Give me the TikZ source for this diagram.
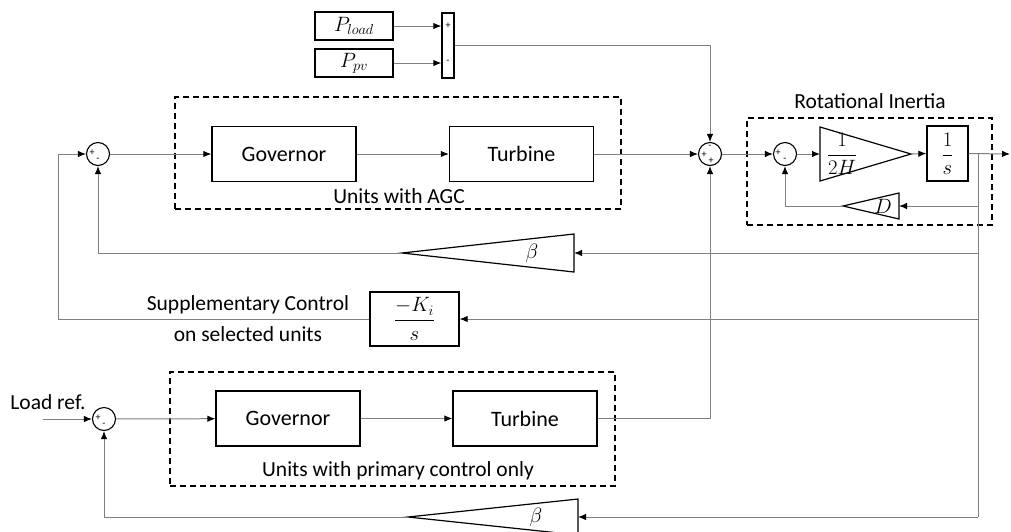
\documentclass[tikz,border=0pt]{standalone}
\usepackage{fontspec}
\usepackage{amsmath}
\setmainfont{Carlito}
\usetikzlibrary{arrows.meta,calc}
\definecolor{linegray}{RGB}{128,128,128}
\begin{document}
\begin{tikzpicture}[x=1pt,y=-1pt,
  txt/.style={font=\fontsize{21.5}{26}\selectfont, inner sep=0pt},
  blk/.style={draw=black, line width=1.3pt, inner sep=0pt, font=\fontsize{22}{26}\selectfont},
  mth/.style={inner sep=0pt, font=\fontsize{22}{26}\selectfont},
  sumj/.style={circle, draw=black, line width=1.1pt, minimum size=23pt, inner sep=0pt},
  sgn/.style={font=\fontsize{10}{10}\selectfont, inner sep=0pt},
  conn/.style={draw=linegray, line width=1pt},
  arr/.style={conn, -{Latex[length=8pt,width=6.5pt,color=black]}},
  grp/.style={draw=black, line width=1.2pt, dash pattern=on 6pt off 4pt, inner sep=0pt},
  gain/.style={draw=black, line width=1.2pt, line join=miter},
]
\useasboundingbox (0,0) rectangle (1011,531);

% ---------- disturbance inputs ----------
\node[blk, minimum width=78pt, minimum height=28pt] (pl) at (354,26) {$P_{load}$};
\node[blk, minimum width=78pt, minimum height=28pt] (pv) at (354,63) {$P_{pv}$};
\node[blk, minimum width=12pt, minimum height=65pt] (mux) at (448,45.5) {};
\node[sgn] at (448,26) {+};
\node[sgn] at (448,62) {-};

% ---------- summing junctions ----------
\node[sumj] (s1) at (98,154) {};
\node[sumj] (s2) at (710,154) {};
\node[sumj] (s3) at (785,154) {};
\node[sumj] (s4) at (104,419) {};
\node[sgn] at (92,153) {+};  \node[sgn] at (98,160) {-};
\node[sgn] at (710,147) {-}; \node[sgn] at (704,155) {+}; \node[sgn] at (711,161) {+};
\node[sgn] at (778,153) {+}; \node[sgn] at (785,160) {-};
\node[sgn] at (98,418) {+};  \node[sgn] at (104,425) {-};

% ---------- units with AGC ----------
\node[grp, minimum width=446pt, minimum height=112pt] (agc) at (398,153) {};
\node[blk, minimum width=144pt, minimum height=55pt] (gov1) at (284,154) {Governor};
\node[blk, minimum width=144pt, minimum height=55pt] (tur1) at (521.5,154) {Turbine};
\node[txt] (agcl) at (399,196) {Units with AGC};

% ---------- units with primary control only ----------
\node[grp, minimum width=445pt, minimum height=114pt] (prim) at (392.5,429) {};
\node[blk, minimum width=144pt, minimum height=55pt] (gov2) at (288,418.5) {Governor};
\node[blk, minimum width=144pt, minimum height=55pt] (tur2) at (525,418.5) {Turbine};
\node[txt] (priml) at (398,471) {Units with primary control only};
\node[txt] (lrefl) at (48,402) {Load ref.};
\coordinate (lref) at (43,419);

% ---------- rotational inertia ----------
\node[grp, minimum width=245pt, minimum height=107pt] (rot) at (869.5,171.5) {};
\node[txt] (rotl) at (870,101) {Rotational Inertia};
\draw[gain] (820,127) -- (911,154) -- (820,181) -- cycle;
\coordinate (kin) at (820,154);
\coordinate (kout) at (911,154);
\node[mth] (kl) at (842,154) {$\dfrac{1}{2H}$};
\node[blk, minimum width=41pt, minimum height=55pt] (ints) at (947.5,153.5) {};
\node[mth] (intl) at (947.5,154) {$\dfrac{1}{s}$};
\draw[gain] (843,206) -- (899,193) -- (899,219) -- cycle;
\coordinate (dtip) at (843,206);
\coordinate (dbase) at (899,206);
\node[mth] (dl) at (883,206) {$D$};

% ---------- feedback gains ----------
\draw[gain] (402,253) -- (574,234) -- (574,272) -- cycle;
\coordinate (b1tip) at (402,253);
\coordinate (b1base) at (574,253);
\node[mth] (b1l) at (532,253) {$\beta$};
\draw[gain] (408,517) -- (578,499) -- (578,535) -- cycle;
\coordinate (b2tip) at (408,517);
\coordinate (b2base) at (578,517);
\node[mth] (b2l) at (536,517) {$\beta$};
\node[blk, minimum width=89pt, minimum height=54pt] (ki) at (414.5,319) {};
\node[mth] (kil) at (414.5,319) {$\dfrac{-K_i}{s}$};
\node[txt, align=center, font=\fontsize{21.5}{31}\selectfont] (supl) at (248,319) {Supplementary Control\\on selected units};

% ---------- branch points ----------
\coordinate (out) at (1010,154);
\coordinate (br) at (978,154);
\coordinate (brD) at (978,206);
\coordinate (brB1) at (978,253);
\coordinate (brK) at (978,319);
\coordinate (brB2) at (978,517);
\coordinate (c1) at (58,154);

% ---------- connectors ----------
\draw[arr] (pl.east) -- (pl.east -| mux.west);
\draw[arr] (pv.east) -- (pv.east -| mux.west);
\draw[arr] (mux.east) -| (s2.north);
\draw[arr] (s1) -- (gov1);
\draw[arr] (gov1) -- (tur1);
\draw[arr] (tur1) -- (s2);
\draw[arr] (lref) -- (s4);
\draw[arr] (s4) -- (gov2);
\draw[arr] (gov2) -- (tur2);
\draw[arr] (tur2.east) -| (s2.south);
\draw[arr] (s2) -- (s3);
\draw[arr] (s3) -- (kin);
\draw[arr] (kout) -- (ints.west);
\draw[arr] (ints.east) -- (out);
\draw[conn] (br) -- (brB2);
\draw[arr] (brD) -- (dbase);
\draw[arr] (dtip) -| (s3.south);
\draw[arr] (brB1) -- (b1base);
\draw[arr] (b1tip) -| (s1.south);
\draw[arr] (brK) -- (ki.east);
\draw[arr] (ki.west) -| (c1) -- (s1);
\draw[arr] (brB2) -- (b2base);
\draw[arr] (b2tip) -| (s4.south);
\end{tikzpicture}
\end{document}
